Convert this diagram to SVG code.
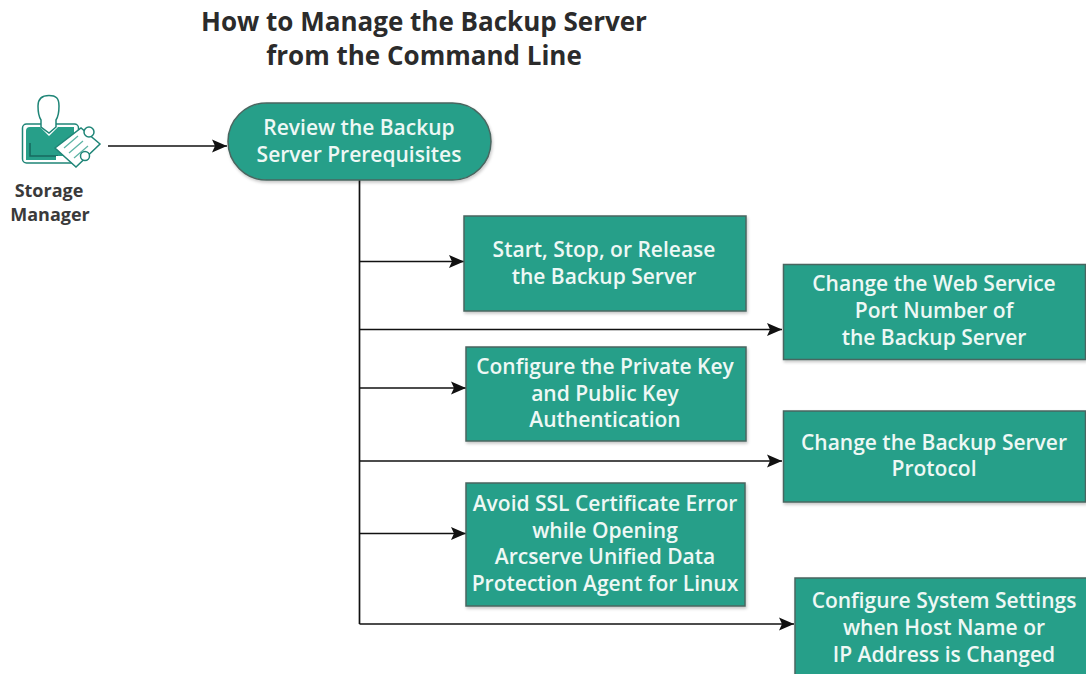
<svg xmlns="http://www.w3.org/2000/svg" width="1086" height="674" viewBox="0 0 1086 674">
<style>
.box{fill:#279f89;stroke:#4a6660;stroke-width:1.5}
.t{font-family:"Open Sans","Noto Sans",sans-serif;font-weight:600;font-size:21px;fill:#eef8f5;text-anchor:middle}
.h{font-family:"Open Sans","Noto Sans",sans-serif;font-weight:700;font-size:26px;fill:#2b2b2b;text-anchor:middle}
.l{font-family:"Open Sans","Noto Sans",sans-serif;font-weight:700;font-size:18px;fill:#3a3a3a;text-anchor:middle}
.c{fill:none;stroke:#111;stroke-width:1.7}
.ic{fill:#fff;stroke:#1f8577;stroke-width:1.5}
</style>
<defs>
<marker id="a" markerUnits="userSpaceOnUse" markerWidth="15" markerHeight="15" refX="15" refY="7.500" orient="auto"><path d="M0 1L15 7.500L0 14L3 7.500Z" fill="#111"/></marker>
<filter id="s" x="-5%" y="-5%" width="110%" height="112%"><feDropShadow dx="1" dy="2" stdDeviation="1.5" flood-color="#000" flood-opacity=".22"/></filter>
</defs>
<rect width="1086" height="674" fill="#fff"/>
<g id="title">
<text class="h" x="424" y="31">How to Manage the Backup Server</text>
<text class="h" x="424" y="65">from the Command Line</text>
</g>
<g id="connectors">
<path class="c" d="M108 146H227" marker-end="url(#a)"/>
<path class="c" d="M359.500 180V624"/>
<path class="c" d="M359.500 261.500H464" marker-end="url(#a)"/>
<path class="c" d="M359.500 329.500H782" marker-end="url(#a)"/>
<path class="c" d="M359.500 388H466" marker-end="url(#a)"/>
<path class="c" d="M359.500 461H782" marker-end="url(#a)"/>
<path class="c" d="M359.500 533.500H466" marker-end="url(#a)"/>
<path class="c" d="M359.500 624H794" marker-end="url(#a)"/>
</g>
<g id="storage-manager">
<rect x="22.500" y="124" width="56" height="39" rx="4" fill="#fff" stroke="#1f8577" stroke-width="1.5"/>
<path d="M26 163V131Q26 127 30 127H40L49 136L58 127H74V160H26Z" fill="#279f89"/>
<path d="M30 143V156H58" fill="none" stroke="#17695f" stroke-width="1.6"/>
<path class="ic" d="M38 106C38 98 42 95.500 49 95.500C56 95.500 59 98 59 106C59 113 58 117 56 120V127L49 133L41 127V120C39 117 38 113 38 106Z"/>
<rect x="56" y="156" width="14" height="6" fill="#fff"/>
<path class="ic" d="M55 148L81 128L100 144L76 167Z"/>
<path d="M64 148L78 136M69 153L83 141M74 158L88 146" stroke="#5fb5a6" stroke-width="1.3" fill="none"/>
<circle cx="89" cy="132" r="5" class="ic"/>
<circle cx="85" cy="156" r="4.500" class="ic"/>
<text class="l" x="49" y="197">Storage</text>
<text class="l" x="50" y="221">Manager</text>
</g>
<g id="n1"><rect class="box" filter="url(#s)" x="228" y="103" width="263" height="77" rx="38.500"/>
<text class="t" x="359" y="135">Review the Backup</text><text class="t" x="359" y="162">Server Prerequisites</text></g>
<g id="n2"><rect class="box" filter="url(#s)" x="464" y="216" width="282" height="95"/>
<text class="t" x="604" y="257">Start, Stop, or Release</text><text class="t" x="604" y="284">the Backup Server</text></g>
<g id="n3"><rect class="box" filter="url(#s)" x="783.500" y="264.500" width="302" height="95"/>
<text class="t" x="934" y="291">Change the Web Service</text><text class="t" x="934" y="318">Port Number of</text><text class="t" x="934" y="345">the Backup Server</text></g>
<g id="n4"><rect class="box" filter="url(#s)" x="466" y="347" width="280" height="94"/>
<text class="t" x="605" y="374">Configure the Private Key</text><text class="t" x="605" y="401">and Public Key</text><text class="t" x="605" y="427">Authentication</text></g>
<g id="n5"><rect class="box" filter="url(#s)" x="783.500" y="411" width="302" height="91"/>
<text class="t" x="934" y="450">Change the Backup Server</text><text class="t" x="934" y="476">Protocol</text></g>
<g id="n6"><rect class="box" filter="url(#s)" x="466" y="483" width="279" height="123"/>
<text class="t" x="605" y="511">Avoid SSL Certificate Error</text><text class="t" x="605" y="538">while Opening</text><text class="t" x="605" y="564">Arcserve Unified Data</text><text class="t" x="605" y="591">Protection Agent for Linux</text></g>
<g id="n7"><rect class="box" filter="url(#s)" x="795" y="578" width="297" height="100"/>
<text class="t" x="944" y="608">Configure System Settings</text><text class="t" x="944" y="635">when Host Name or</text><text class="t" x="944" y="662">IP Address is Changed</text></g>
</svg>
